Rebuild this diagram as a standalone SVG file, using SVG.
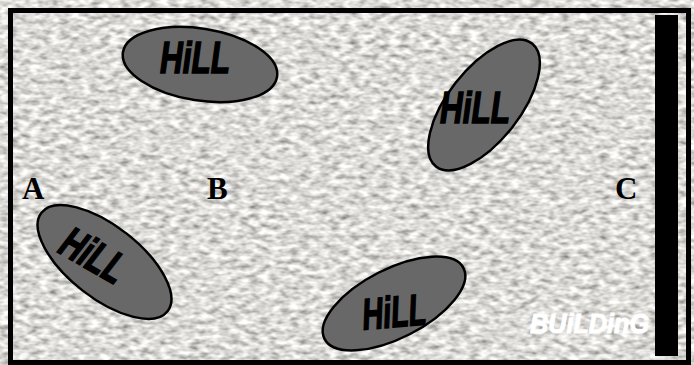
<svg xmlns="http://www.w3.org/2000/svg" width="694" height="365" viewBox="0 0 694 365">
<defs>
<filter id="stone" x="0" y="0" width="100%" height="100%" filterUnits="userSpaceOnUse">
<feTurbulence type="fractalNoise" baseFrequency="0.1 0.2" numOctaves="2" seed="7" result="n"/>
<feColorMatrix in="n" type="matrix" values="1.2 0 0 0 0.11  1.2 0 0 0 0.105  1.2 0 0 0 0.08  0 0 0 0 1"/>
</filter>
<style>
.hill ellipse{fill:#686868;stroke:#000;stroke-width:2.5}
.hill text{font-family:"Liberation Sans",Arial,sans-serif;font-weight:bold;font-style:italic;font-size:44px;fill:#000;stroke:#000;stroke-width:1.6}
.lbl{font-family:"Liberation Serif","Times New Roman",serif;font-weight:bold;font-size:31px;fill:#000}
</style>
</defs>
<rect width="694" height="365" fill="#fff"/>
<rect x="13" y="13" width="673" height="347" filter="url(#stone)"/>
<rect x="10.5" y="10.5" width="678" height="352" fill="none" stroke="#000" stroke-width="5"/>
<g id="building">
<rect x="655" y="15" width="23" height="341" fill="#000"/>
<text x="530" y="333" textLength="119" lengthAdjust="spacingAndGlyphs" style="font-family:'Liberation Sans',Arial,sans-serif;font-weight:bold;font-style:italic;font-size:28px;fill:#fff;stroke:#fff;stroke-width:1">BUiLDinG</text>
</g>
<g id="hill1" class="hill">
<ellipse cx="200" cy="64.5" rx="78" ry="36" transform="rotate(9 200 64.5)"/>
<text x="160" y="73" textLength="70" lengthAdjust="spacingAndGlyphs">HiLL</text>
</g>
<g id="hill2" class="hill">
<ellipse cx="484" cy="105" rx="78" ry="36" transform="rotate(-52 484 105)"/>
<text x="440" y="123" textLength="70" lengthAdjust="spacingAndGlyphs">HiLL</text>
</g>
<g id="hill3" class="hill">
<ellipse cx="104.5" cy="262" rx="80" ry="36" transform="rotate(38 104.5 262)"/>
<text x="92" y="270" text-anchor="middle" textLength="68" lengthAdjust="spacingAndGlyphs" transform="rotate(30 92 258)">HiLL</text>
</g>
<g id="hill4" class="hill">
<ellipse cx="394" cy="303.5" rx="78" ry="34.5" transform="rotate(-27 394 303.5)"/>
<text x="394" y="327" text-anchor="middle" textLength="64" lengthAdjust="spacingAndGlyphs" transform="rotate(-5 394 310)">HiLL</text>
</g>
<g id="labels">
<text class="lbl" x="22" y="199">A</text>
<text class="lbl" x="207" y="199">B</text>
<text class="lbl" x="615" y="199">C</text>
</g>
</svg>
